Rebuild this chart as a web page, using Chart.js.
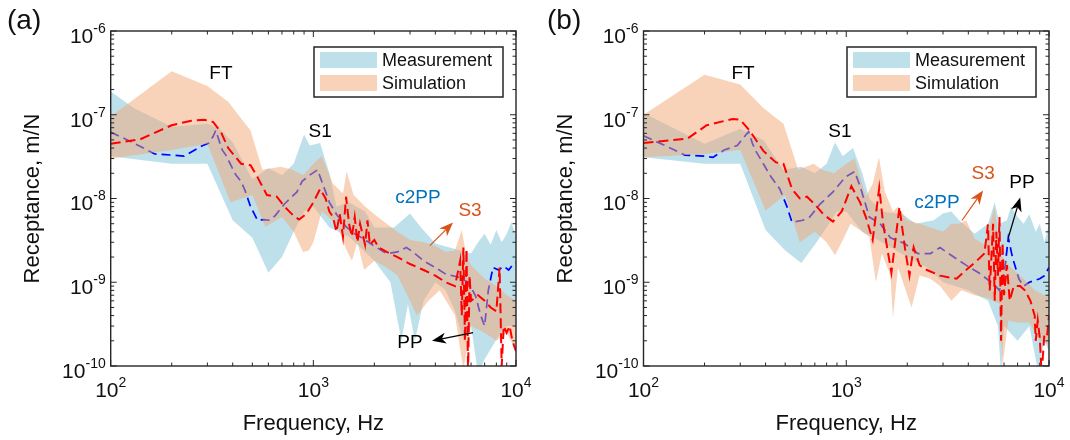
<!DOCTYPE html>
<html>
<head>
<meta charset="utf-8">
<script src="https://cdn.jsdelivr.net/npm/chart.js@4.4.1/dist/chart.umd.min.js"></script>
<style>
  body { margin: 0; background: #fff; }
  #wrap { position: relative; width: 1070px; height: 440px; }
  canvas { position: absolute; top: 0; }
</style>
</head>
<body>
<div id="wrap">
  <canvas id="chartA" width="535" height="440" style="left:0"></canvas>
  <canvas id="chartB" width="535" height="440" style="left:535px"></canvas>
</div>
<script>
// axis decades (log10) and legend text
const xDecades = [2, 3, 4];
const yDecades = [-10, -9, -8, -7, -6];
const legendLabels = ['Measurement', 'Simulation'];

// ---- panel (a): [frequency Hz, receptance m/N]
const measUpperA = [[100,1.9e-7],[130,1.2e-7],[200,7.2e-8],[300,7.8e-8],[340,7e-8],[400,4.7e-8],[500,1.7e-8],[600,2.3e-8],[700,1.9e-8],[800,2.6e-8],[900,5.8e-8],[960,4.3e-8],[1080,4.6e-8],[1200,2e-8],[1300,8e-9],[1500,9e-9],[1800,7e-9],[2000,4.5e-9],[2500,4.5e-9],[3000,6.6e-9],[3400,4.5e-9],[4000,2.9e-9],[5000,2.5e-9],[6000,2.2e-9],[6500,3e-9],[7000,3.8e-9],[7500,2.8e-9],[8000,4.2e-9],[8500,3e-9],[9000,3.8e-9],[9500,5.2e-9],[10000,3.5e-9]];
const measLowerA = [[100,3.2e-8],[200,2.6e-8],[300,2.6e-8],[400,5.5e-9],[500,3.4e-9],[600,1.3e-9],[700,2e-9],[800,4e-9],[900,7e-9],[1000,8e-9],[1200,4.5e-9],[1500,3.5e-9],[2000,1.8e-9],[2400,1e-9],[2720,2e-10],[2930,5.5e-10],[3170,2e-10],[3500,6e-10],[4000,1e-9],[4500,8e-10],[5000,4.5e-10],[5500,2e-10],[6000,3e-10],[6500,8e-11],[7000,1.2e-10],[8300,2.4e-10],[9000,3e-10],[10000,3e-10]];
const simUpperA = [[100,9.5e-8],[200,3.3e-7],[300,2.2e-7],[380,1.43e-7],[490,6.5e-8],[560,2.2e-8],[690,2.4e-8],[790,2.2e-8],[890,1.9e-8],[1000,2.6e-8],[1100,3.2e-8],[1250,1.5e-8],[1400,1.15e-8],[1460,2.1e-8],[1580,1.1e-8],[1800,8e-9],[2000,6.5e-9],[2300,5e-9],[2600,4e-9],[3000,3.2e-9],[3500,3e-9],[4000,2.7e-9],[4500,2.3e-9],[5000,2.4e-9],[5400,4.2e-9],[5700,2e-9],[6000,1.6e-9],[7000,1.1e-9],[8000,9e-10],[9000,7e-10],[10000,6e-10]];
const simLowerA = [[100,3e-8],[200,3.8e-8],[300,4.5e-8],[390,9e-9],[500,1.1e-8],[580,4.6e-9],[700,6e-9],[800,4e-9],[890,2.3e-9],[950,2.4e-9],[1000,3e-9],[1100,7e-9],[1300,5e-9],[1450,2.5e-9],[1550,1.8e-9],[1650,3e-9],[1780,1.4e-9],[2000,1.8e-9],[2300,1.5e-9],[2600,1.2e-9],[3000,6e-10],[3240,4e-10],[3700,6e-10],[4200,8e-10],[5000,4e-10],[5500,9e-11],[6000,3e-10],[7000,2.5e-10],[8000,2e-10],[9000,2.5e-10],[10000,1.5e-10]];
const measMeanA = [[100,6.2e-8],[130,4.6e-8],[165,3.4e-8],[200,3.3e-8],[230,3.2e-8],[260,3.8e-8],[285,4.3e-8],[305,4.6e-8],[320,5.5e-8],[330,6.5e-8],[340,5.2e-8],[355,3.8e-8],[370,3.3e-8],[395,2.4e-8],[415,1.9e-8],[440,1.6e-8],[460,1.25e-8],[490,8e-9],[530,5.5e-9],[570,5.6e-9],[610,5.5e-9],[650,6.3e-9],[720,8.6e-9],[830,1.2e-8],[880,1.6e-8],[960,1.9e-8],[1050,2.2e-8],[1100,1.6e-8],[1150,1.2e-8],[1200,9e-9],[1300,6.5e-9],[1450,4.6e-9],[1600,3.8e-9],[1800,3.2e-9],[2000,2.7e-9],[2300,2.2e-9],[2600,2.3e-9],[2880,2.6e-9],[3100,2.3e-9],[3500,1.8e-9],[4000,1.5e-9],[4500,1.25e-9],[5200,1.15e-9],[5800,1e-9],[6300,7e-10],[6700,4e-10],[7000,3e-10],[7300,8e-10],[7700,1.5e-9],[8200,1.4e-9],[8700,1.55e-9],[9200,1.4e-9],[9600,1.6e-9],[10000,1.7e-9]];
const simMeanA = [[100,4.5e-8],[140,5.1e-8],[200,7.5e-8],[250,8.5e-8],[290,8.7e-8],[320,8.2e-8],[350,6.2e-8],[380,4e-8],[440,2.6e-8],[490,2.5e-8],[530,1.8e-8],[590,1.1e-8],[660,1.05e-8],[720,8e-9],[800,6.2e-9],[850,5.6e-9],[920,6.5e-9],[1000,9e-9],[1080,1.3e-8],[1150,1e-8],[1200,7e-9],[1250,6e-9],[1300,4e-9],[1350,6.5e-9],[1400,3.5e-9],[1450,1.05e-8],[1500,5e-9],[1550,3.5e-9],[1600,6e-9],[1650,3e-9],[1700,5e-9],[1800,2.8e-9],[1850,5.5e-9],[1900,2.8e-9],[2000,3.2e-9],[2100,2.6e-9],[2300,2.3e-9],[2600,2e-9],[3000,1.65e-9],[3500,1.4e-9],[4000,1.2e-9],[4500,1e-9],[5000,9e-10],[5300,1.8e-9],[5400,4e-10],[5500,2.6e-9],[5600,2e-10],[5700,2.5e-9],[5800,8e-11],[5900,1.2e-9],[6000,6e-10],[6500,7e-10],[7000,6e-10],[7500,5e-10],[8000,4.5e-10],[8300,1.5e-9],[8500,1e-10],[8700,3e-10],[9000,2.5e-10],[9300,3e-10],[9600,2e-10],[10000,1.5e-10]];

// ---- panel (b)
const measUpperB = [[100,1.05e-7],[200,4.5e-8],[300,6.8e-8],[390,5e-8],[490,2.2e-8],[600,2.4e-8],[700,2e-8],[800,2.6e-8],[880,4.7e-8],[960,3.2e-8],[1080,4e-8],[1200,2e-8],[1300,1e-8],[1500,7e-9],[1900,6.5e-9],[2200,5e-9],[2700,5.5e-9],[3000,6.6e-9],[3300,7e-9],[3600,5.5e-9],[4300,3.8e-9],[5000,5e-9],[5400,9e-9],[5700,5e-9],[6200,5.5e-9],[6500,8e-9],[7000,6e-9],[7500,5e-9],[8000,6.5e-9],[8600,4e-9],[9000,5e-9],[9500,3e-9],[10000,5e-9]];
const measLowerB = [[100,3.1e-8],[200,2.6e-8],[300,2.6e-8],[400,4.2e-9],[500,2.4e-9],[600,1.7e-9],[700,2.8e-9],[800,4.5e-9],[900,7e-9],[1000,7e-9],[1200,4e-9],[1500,3e-9],[2000,2e-9],[2500,1.5e-9],[3000,1e-9],[4000,8e-10],[5000,6e-10],[5600,3e-10],[5800,8e-11],[6000,3e-10],[7000,2e-10],[8000,3e-10],[8800,9e-11],[9500,2e-10],[10000,1.5e-10]];
const simUpperB = [[100,1e-7],[200,3e-7],[300,2.3e-7],[390,1.2e-7],[490,7.8e-8],[580,2.2e-8],[690,2.6e-8],[760,2.2e-8],[870,2e-8],[1000,2.6e-8],[1100,3e-8],[1170,1.8e-8],[1250,1.05e-8],[1350,1.5e-8],[1450,3.1e-8],[1550,1.2e-8],[1700,7e-9],[1800,8e-9],[2000,5.5e-9],[2300,5e-9],[2600,4.5e-9],[3000,4e-9],[3300,5e-9],[3600,5e-9],[3900,5.5e-9],[4300,3.3e-9],[4800,2.8e-9],[5400,8e-9],[5700,2.2e-9],[6500,1.5e-9],[7500,1.1e-9],[8500,8e-10],[9500,7e-10],[10000,7e-10]];
const simLowerB = [[100,3.1e-8],[200,3.4e-8],[300,3.8e-8],[400,7.2e-9],[500,1.1e-8],[590,3e-9],[700,4e-9],[800,3e-9],[880,2.1e-9],[950,3e-9],[1050,5e-9],[1200,4e-9],[1300,3.5e-9],[1400,1e-9],[1500,2.2e-9],[1650,1.2e-9],[1700,3.8e-10],[1800,1.5e-9],[2100,5e-10],[2300,1.2e-9],[2600,1.1e-9],[2900,9e-10],[3300,6e-10],[3700,8e-10],[4300,7e-10],[5000,6.5e-10],[5700,5.5e-10],[5900,1e-10],[6300,3.5e-10],[7000,3.3e-10],[8000,3.3e-10],[9000,2e-10],[10000,1.8e-10]];
const measMeanB = [[100,5.6e-8],[130,4.2e-8],[160,3.3e-8],[200,3.2e-8],[220,3.1e-8],[250,3.8e-8],[290,4.3e-8],[330,6.3e-8],[345,4.5e-8],[360,3.6e-8],[390,2.6e-8],[420,1.9e-8],[470,1.3e-8],[510,8e-9],[540,5.2e-9],[610,5.5e-9],[660,6e-9],[740,8.5e-9],[860,1.2e-8],[990,1.8e-8],[1100,2.1e-8],[1170,1.4e-8],[1220,1e-8],[1300,6e-9],[1470,5e-9],[1650,3.4e-9],[1940,2.9e-9],[2260,2.2e-9],[2600,2.2e-9],[2900,2.6e-9],[3200,2.2e-9],[3900,1.6e-9],[4500,1.3e-9],[5300,9.6e-10],[5700,8e-10],[6000,1.2e-9],[6300,3.4e-9],[6600,2e-9],[7100,1.1e-9],[7500,9e-10],[8000,1e-9],[9000,1.1e-9],[9500,1.2e-9],[10000,1.5e-9]];
const simMeanB = [[100,4.6e-8],[165,5.2e-8],[205,7.5e-8],[275,8.9e-8],[300,8.7e-8],[335,6.4e-8],[390,3.7e-8],[450,2.7e-8],[490,2.6e-8],[540,1.3e-8],[590,1e-8],[640,1.05e-8],[700,8.5e-9],[770,6.5e-9],[860,5.3e-9],[950,7e-9],[1060,1.4e-8],[1170,9e-9],[1250,6e-9],[1350,3.2e-9],[1455,1.35e-8],[1520,5e-9],[1670,1.3e-9],[1830,7.9e-9],[1950,2.5e-9],[2050,1.2e-9],[2150,2.6e-9],[2300,1.6e-9],[2500,1.4e-9],[2900,1.2e-9],[3500,1.1e-9],[3900,1.4e-9],[4400,1.8e-9],[4800,2.2e-9],[5000,4.9e-9],[5100,8e-10],[5300,5e-9],[5400,6e-10],[5500,4e-9],[5600,1.2e-9],[5700,6e-9],[5800,2e-10],[5900,3e-9],[6000,7e-10],[6200,1.6e-9],[6400,6e-10],[6700,9e-10],[7200,9e-10],[7600,8e-10],[8100,6e-10],[8500,4e-10],[8600,2e-10],[8800,3.5e-10],[9000,2.2e-10],[9200,8e-11],[9500,2.5e-10],[9800,2.4e-10],[10000,4e-10]];

const MEAS_FILL = 'rgba(173,216,230,0.8)';
const SIM_FILL = 'rgba(241,167,115,0.5)';
const AXIS_COLOR = '#262626';
const FONT = '"Liberation Sans", Arial, Helvetica, sans-serif';

const toPts = arr => arr.map(([x, y]) => ({ x, y }));
// closed band outline: upper edge left->right, lower edge right->left
const band = (upper, lower) => toPts(upper).concat(toPts(lower).reverse());

function logTicks(decades) {
  const t = [];
  for (let i = 0; i < decades.length - 1; i++) {
    for (let k = 1; k < 10; k++) t.push({ v: k * Math.pow(10, decades[i]), major: k === 1 });
  }
  t.push({ v: Math.pow(10, decades[decades.length - 1]), major: true });
  return t;
}

function drawArrow(ctx, x1, y1, x2, y2, color) {
  const ang = Math.atan2(y2 - y1, x2 - x1);
  const len = 14, half = 5.5, back = 4;
  const c = Math.cos(ang), s = Math.sin(ang);
  ctx.save();
  ctx.strokeStyle = color;
  ctx.fillStyle = color;
  ctx.lineWidth = 1.2;
  ctx.beginPath();
  ctx.moveTo(x1, y1);
  ctx.lineTo(x2 - c * (len - back), y2 - s * (len - back));
  ctx.stroke();
  const bx = x2 - c * len, by = y2 - s * len;
  ctx.beginPath();
  ctx.moveTo(x2, y2);
  ctx.lineTo(bx - s * half, by + c * half);
  ctx.lineTo(x2 - c * (len - back), y2 - s * (len - back));
  ctx.lineTo(bx + s * half, by - c * half);
  ctx.closePath();
  ctx.fill();
  ctx.restore();
}

// axes box, ticks, labels, legend, annotations
function decorPlugin(panel) {
  return {
    id: 'decor',
    afterDraw(chart) {
      const ctx = chart.ctx;
      const a = chart.chartArea;
      const xs = chart.scales.x, ys = chart.scales.y;
      ctx.save();

      // annotations
      ctx.textAlign = 'center';
      ctx.textBaseline = 'middle';
      ctx.font = '19px ' + FONT;
      panel.notes.forEach(n => {
        ctx.fillStyle = n.color;
        ctx.fillText(n.text, xs.getPixelForValue(n.f), ys.getPixelForValue(n.v));
      });
      panel.arrows.forEach(ar => {
        drawArrow(ctx, xs.getPixelForValue(ar.from[0]), ys.getPixelForValue(ar.from[1]),
          xs.getPixelForValue(ar.to[0]), ys.getPixelForValue(ar.to[1]), ar.color);
      });

      // legend
      const lw = 189, lh = 50;
      const lx = a.right - 13 - lw, ly = a.top + 16;
      ctx.fillStyle = '#fff';
      ctx.fillRect(lx, ly, lw, lh);
      ctx.fillStyle = MEAS_FILL;
      ctx.fillRect(lx + 6, ly + 5, 57, 16);
      ctx.fillStyle = '#fff';
      ctx.fillRect(lx + 6, ly + 28, 57, 16);
      ctx.fillStyle = SIM_FILL;
      ctx.fillRect(lx + 6, ly + 28, 57, 16);
      ctx.strokeStyle = AXIS_COLOR;
      ctx.lineWidth = 1.5;
      ctx.strokeRect(lx, ly, lw, lh);
      ctx.fillStyle = '#111';
      ctx.font = '18px ' + FONT;
      ctx.textAlign = 'left';
      ctx.fillText(legendLabels[0], lx + 68, ly + 14);
      ctx.fillText(legendLabels[1], lx + 68, ly + 37);

      // box
      ctx.strokeStyle = AXIS_COLOR;
      ctx.lineWidth = 1.4;
      ctx.strokeRect(a.left, a.top, a.right - a.left, a.bottom - a.top);

      // inward ticks on all sides
      ctx.lineWidth = 1;
      ctx.beginPath();
      logTicks(xDecades).forEach(t => {
        const px = xs.getPixelForValue(t.v);
        const L = t.major ? 6 : 3.5;
        ctx.moveTo(px, a.bottom); ctx.lineTo(px, a.bottom - L);
        ctx.moveTo(px, a.top); ctx.lineTo(px, a.top + L);
      });
      logTicks(yDecades).forEach(t => {
        const py = ys.getPixelForValue(t.v);
        const L = t.major ? 6 : 3.5;
        ctx.moveTo(a.left, py); ctx.lineTo(a.left + L, py);
        ctx.moveTo(a.right, py); ctx.lineTo(a.right - L, py);
      });
      ctx.stroke();

      // tick labels 10^n
      ctx.fillStyle = '#111';
      ctx.textBaseline = 'middle';
      yDecades.forEach(e => {
        const py = ys.getPixelForValue(Math.pow(10, e));
        ctx.font = '14px ' + FONT;
        const exp = String(e);
        const we = ctx.measureText(exp).width;
        ctx.textAlign = 'left';
        ctx.fillText(exp, a.left - 5 - we, py - 2);
        ctx.font = '21px ' + FONT;
        ctx.textAlign = 'right';
        ctx.fillText('10', a.left - 5 - we, py + 6);
      });
      xDecades.forEach(e => {
        const px = xs.getPixelForValue(Math.pow(10, e));
        ctx.font = '21px ' + FONT;
        const wb = ctx.measureText('10').width;
        ctx.font = '14px ' + FONT;
        const exp = String(e);
        const we = ctx.measureText(exp).width;
        const x0 = px - (wb + we) / 2;
        ctx.textAlign = 'left';
        ctx.fillText(exp, x0 + wb, a.bottom + 17);
        ctx.font = '21px ' + FONT;
        ctx.fillText('10', x0, a.bottom + 25);
      });

      // axis titles
      ctx.font = '22px ' + FONT;
      ctx.textAlign = 'center';
      ctx.textBaseline = 'alphabetic';
      ctx.fillText('Frequency, Hz', (a.left + a.right) / 2, 430);
      ctx.save();
      ctx.translate(a.left - 70, (a.top + a.bottom) / 2);
      ctx.rotate(-Math.PI / 2);
      ctx.textBaseline = 'middle';
      ctx.fillText('Receptance, m/N', 0, -8);
      ctx.restore();

      // panel label
      ctx.font = '28px ' + FONT;
      ctx.textAlign = 'left';
      ctx.textBaseline = 'alphabetic';
      ctx.fillText(panel.label, panel.labelX, 29);
      ctx.restore();
    }
  };
}

function makeChart(id, panel) {
  new Chart(document.getElementById(id), {
    type: 'line',
    data: {
      datasets: [
        { data: band(panel.measUpper, panel.measLower), fill: 'shape', backgroundColor: MEAS_FILL,
          borderColor: 'transparent', borderWidth: 0, pointRadius: 0, order: 4 },
        { data: toPts(panel.measMean), fill: false, borderColor: '#0000ff', borderWidth: 1.7,
          borderDash: [9, 5], pointRadius: 0, order: 3 },
        { data: band(panel.simUpper, panel.simLower), fill: 'shape', backgroundColor: SIM_FILL,
          borderColor: 'transparent', borderWidth: 0, pointRadius: 0, order: 2 },
        { data: toPts(panel.simMean), fill: false, borderColor: '#ff0000', borderWidth: 2,
          borderDash: [10, 5], pointRadius: 0, order: 1 }
      ]
    },
    options: {
      responsive: false,
      animation: false,
      devicePixelRatio: 1,
      layout: { padding: panel.padding },
      elements: { line: { tension: 0 } },
      scales: {
        x: { type: 'logarithmic', min: 100, max: 10000, display: false },
        y: { type: 'logarithmic', min: 1e-10, max: 1e-6, display: false }
      },
      plugins: { legend: { display: false }, tooltip: { enabled: false } }
    },
    plugins: [decorPlugin(panel)]
  });
}

makeChart('chartA', {
  label: '(a)', labelX: 7,
  padding: { left: 110.7, right: 19, top: 31, bottom: 74 },
  measUpper: measUpperA, measLower: measLowerA, simUpper: simUpperA, simLower: simLowerA,
  measMean: measMeanA, simMean: simMeanA,
  notes: [
    { text: 'FT', f: 350, v: 3.1e-7, color: '#000' },
    { text: 'S1', f: 1080, v: 6.2e-8, color: '#000' },
    { text: 'c2PP', f: 3280, v: 1.03e-8, color: '#0072BD' },
    { text: 'S3', f: 5930, v: 7.2e-9, color: '#D95319' },
    { text: 'PP', f: 3000, v: 1.9e-10, color: '#000' }
  ],
  arrows: [
    { from: [3760, 2.74e-9], to: [4890, 5.16e-9], color: '#D95319' },
    { from: [6140, 2.5e-10], to: [3850, 2.0e-10], color: '#000' }
  ]
});

makeChart('chartB', {
  label: '(b)', labelX: 12,
  padding: { left: 108.5, right: 21, top: 31, bottom: 74 },
  measUpper: measUpperB, measLower: measLowerB, simUpper: simUpperB, simLower: simLowerB,
  measMean: measMeanB, simMean: simMeanB,
  notes: [
    { text: 'FT', f: 310, v: 3.1e-7, color: '#000' },
    { text: 'S1', f: 930, v: 6.2e-8, color: '#000' },
    { text: 'c2PP', f: 2800, v: 8.95e-9, color: '#0072BD' },
    { text: 'S3', f: 4730, v: 2.0e-8, color: '#D95319' },
    { text: 'PP', f: 7360, v: 1.56e-8, color: '#000' }
  ],
  arrows: [
    { from: [3720, 5.46e-9], to: [4730, 1.25e-8], color: '#D95319' },
    { from: [6300, 3.4e-9], to: [7210, 1.03e-8], color: '#000' }
  ]
});
</script>
</body>
</html>
